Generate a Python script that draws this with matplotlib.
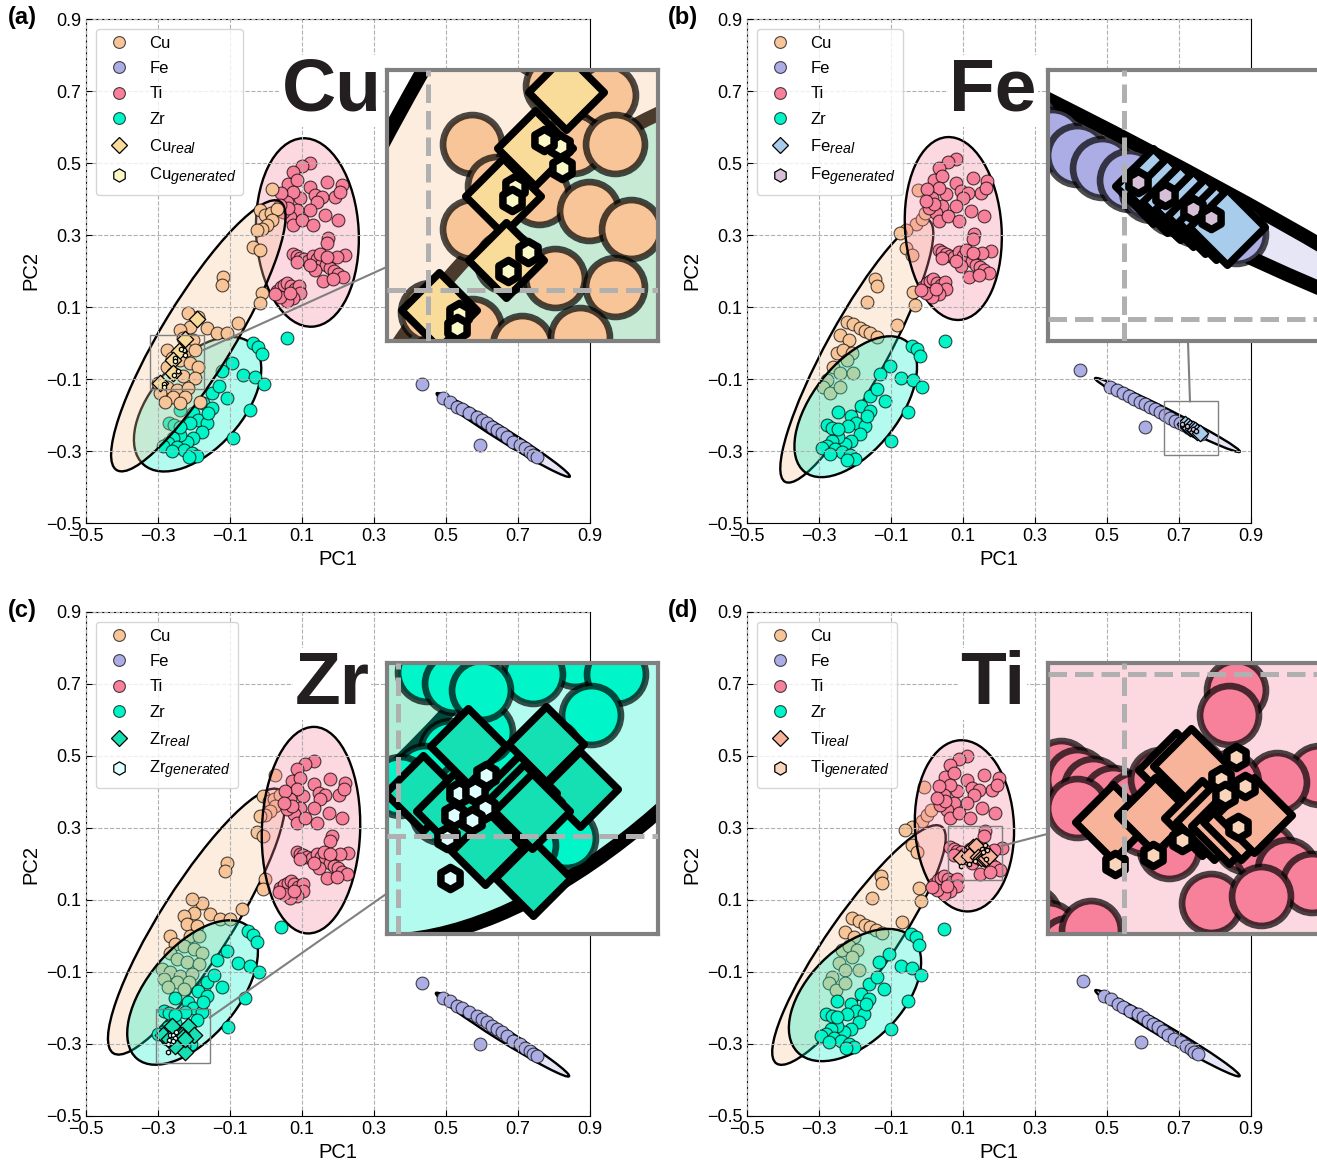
import numpy as np
import matplotlib
matplotlib.use("Agg")
import matplotlib.pyplot as plt
import matplotlib._mathtext as mathtext_core
from matplotlib.patches import Ellipse, Rectangle
from matplotlib.lines import Line2D
from matplotlib.colors import to_rgba

plt.rcParams['font.family'] = ['Liberation Sans', 'DejaVu Sans']
plt.rcParams['mathtext.fontset'] = 'custom'
plt.rcParams['mathtext.rm'] = 'Liberation Sans'
plt.rcParams['mathtext.it'] = 'Liberation Sans:italic'
# subscripts in the legend are drawn fairly large in the original
mathtext_core.SHRINK_FACTOR = 0.85

# ---- data (PC1, PC2) ----
TI_BASE = [(0.122, 0.499), (0.099, 0.492), (0.076, 0.476), (0.062, 0.443), (0.085, 0.453), (0.122, 0.434),
           (0.136, 0.411), (0.169, 0.448), (0.192, 0.406), (0.210, 0.439), (0.206, 0.420), (0.155, 0.406),
           (0.141, 0.393), (0.122, 0.369), (0.094, 0.402), (0.076, 0.420), (0.057, 0.393), (0.043, 0.416),
           (0.085, 0.369), (0.067, 0.351), (0.076, 0.328), (0.099, 0.342), (0.131, 0.328), (0.164, 0.356),
           (0.201, 0.342), (0.173, 0.291), (0.169, 0.277), (0.048, 0.365), (0.062, 0.374), (0.039, 0.383),
           (0.076, 0.247), (0.085, 0.242), (0.094, 0.237), (0.105, 0.232), (0.117, 0.229), (0.131, 0.242),
           (0.142, 0.232), (0.155, 0.223), (0.167, 0.217), (0.178, 0.207), (0.189, 0.201), (0.201, 0.192),
           (0.215, 0.184), (0.219, 0.244), (0.196, 0.240), (0.150, 0.247), (0.136, 0.203), (0.159, 0.173),
           (0.187, 0.177), (0.085, 0.226), (0.122, 0.217), (0.169, 0.240),
           (0.030, 0.145), (0.041, 0.155), (0.050, 0.161), (0.059, 0.166), (0.069, 0.157), (0.080, 0.149),
           (0.093, 0.158), (0.094, 0.138), (0.076, 0.124), (0.057, 0.118), (0.039, 0.129), (0.025, 0.136),
           (0.067, 0.138)]

CU_A = [(0.016, 0.427), (-0.017, 0.369), (-0.003, 0.355), (0.013, 0.360), (0.030, 0.371), (0.016, 0.342),
        (0.002, 0.328), (-0.012, 0.316), (-0.026, 0.314), (-0.035, 0.268), (-0.018, 0.258), (-0.119, 0.184),
        (-0.123, 0.161), (-0.012, 0.138), (-0.017, 0.110), (-0.077, 0.055), (-0.188, 0.073), (-0.216, 0.082),
        (-0.211, 0.045), (-0.165, 0.041), (-0.137, 0.027), (-0.109, 0.027), (-0.239, 0.036), (-0.230, 0.013),
        (-0.202, 0.008), (-0.220, -0.019), (-0.197, -0.019), (-0.276, -0.019), (-0.262, -0.042),
        (-0.239, -0.047), (-0.211, -0.056), (-0.188, -0.066), (-0.276, -0.066), (-0.257, -0.084),
        (-0.230, -0.093), (-0.197, -0.098), (-0.299, -0.112), (-0.276, -0.121), (-0.248, -0.130),
        (-0.216, -0.126), (-0.294, -0.140), (-0.257, -0.149), (-0.225, -0.149), (-0.183, -0.163),
        (-0.239, -0.167), (-0.281, -0.163)]

CU_B = [(-0.024, 0.425), (-0.030, 0.330), (-0.015, 0.345), (-0.005, 0.360), (-0.057, 0.314), (-0.075, 0.305),
        (-0.057, 0.263), (-0.043, 0.244), (-0.144, 0.177), (-0.140, 0.157), (-0.168, 0.115), (-0.038, 0.143),
        (-0.033, 0.106), (-0.084, 0.050), (-0.223, 0.059), (-0.205, 0.053), (-0.186, 0.041), (-0.172, 0.034),
        (-0.158, 0.027), (-0.140, 0.018), (-0.242, 0.022), (-0.218, 0.008), (-0.251, -0.029), (-0.232, -0.019),
        (-0.209, -0.029), (-0.260, -0.066), (-0.242, -0.084), (-0.279, -0.103), (-0.223, -0.047),
        (-0.205, -0.084), (-0.288, -0.121), (-0.269, -0.140), (-0.242, -0.121)]

ZR_BASE = [(-0.035, 0.000), (-0.021, -0.010), (-0.012, -0.030), (0.057, 0.013), (-0.095, -0.056),
           (-0.123, -0.079), (-0.063, -0.089), (-0.031, -0.095), (-0.006, -0.114), (-0.151, -0.140),
           (-0.109, -0.154), (-0.174, -0.167), (-0.151, -0.181), (-0.044, -0.186), (-0.202, -0.195),
           (-0.188, -0.214), (-0.165, -0.223), (-0.179, -0.246), (-0.202, -0.265), (-0.220, -0.274),
           (-0.239, -0.255), (-0.257, -0.265), (-0.271, -0.279), (-0.248, -0.288), (-0.228, -0.297),
           (-0.206, -0.305), (-0.193, -0.314), (-0.091, -0.265), (-0.239, -0.186), (-0.211, -0.223),
           (-0.270, -0.222), (-0.255, -0.228), (-0.240, -0.232), (-0.285, -0.285), (-0.262, -0.300),
           (-0.215, -0.318), (-0.160, -0.195), (-0.130, -0.120)]

FE_A = [(0.432, -0.114), (0.594, -0.283), (0.493, -0.154), (0.511, -0.163), (0.530, -0.177), (0.544, -0.184),
        (0.565, -0.195), (0.585, -0.205), (0.599, -0.214), (0.613, -0.223), (0.627, -0.232), (0.641, -0.242),
        (0.655, -0.251), (0.669, -0.262), (0.687, -0.274), (0.706, -0.283), (0.720, -0.293), (0.733, -0.302),
        (0.743, -0.311), (0.752, -0.316)]

FE_B = [(0.425, -0.075), (0.606, -0.232), (0.508, -0.121), (0.527, -0.130), (0.545, -0.140), (0.560, -0.147),
        (0.576, -0.155), (0.591, -0.163), (0.605, -0.170), (0.619, -0.177), (0.633, -0.184), (0.647, -0.191),
        (0.660, -0.200), (0.674, -0.209), (0.688, -0.216), (0.703, -0.223), (0.715, -0.229), (0.728, -0.236),
        (0.740, -0.242), (0.752, -0.248), (0.762, -0.253)]

# per-panel choice / offsets of the projected clusters
CU_SET = ['A', 'B', 'A', 'B']
CU_SHIFT = [(0.0, 0.0), (0.0, 0.0), (0.01, 0.02), (0.015, -0.01)]
FE_SET = ['A', 'B', 'A', 'A']
FE_SHIFT = [(0.0, 0.0), (0.0, 0.0), (0.0, -0.017), (0.0, -0.012)]
TI_SHIFT = [(0.0, 0.0), (-0.042, 0.011), (0.01, -0.013), (-0.011, 0.0)]
ZR_SHIFT = [(0.0, 0.0), (-0.008, -0.007), (-0.014, 0.013), (-0.01, 0.006)]

# confidence ellipses per panel: (cx, cy, width, height, angle)
ELL_CU = [(-0.188, 0.020, 0.873, 0.20, 58.7), (-0.195, -0.022, 0.829, 0.17, 61.3),
          (-0.193, 0.040, 0.865, 0.20, 57.7), (-0.189, -0.025, 0.802, 0.18, 55.1)]
ELL_FE = [(0.659, -0.2555, 0.436, 0.035, -32), (0.668, -0.200, 0.451, 0.030, -26.9),
          (0.657, -0.274, 0.436, 0.035, -32), (0.668, -0.270, 0.466, 0.035, -30.7)]
ELL_TI = [(0.115, 0.307, 0.285, 0.524, 3), (0.073, 0.318, 0.268, 0.509, 4),
          (0.125, 0.294, 0.273, 0.574, -2), (0.104, 0.306, 0.275, 0.476, 3)]
ELL_ZR = [(-0.190, -0.170, 0.450, 0.250, 48), (-0.198, -0.177, 0.460, 0.240, 52),
          (-0.204, -0.157, 0.480, 0.250, 50), (-0.200, -0.164, 0.450, 0.260, 45)]

# real and generated samples highlighted in each panel
TARGET = ['Cu', 'Fe', 'Zr', 'Ti']
REAL = [
    [(-0.193, 0.066), (-0.224, 0.010), (-0.241, -0.021), (-0.259, -0.048), (-0.257, -0.083), (-0.294, -0.111)],
    [(0.716, -0.226), (0.724, -0.231), (0.731, -0.235), (0.738, -0.239), (0.745, -0.243), (0.751, -0.246),
     (0.757, -0.249)],
    [(-0.261, -0.250), (-0.218, -0.249), (-0.199, -0.274), (-0.286, -0.276), (-0.225, -0.323), (-0.252, -0.306),
     (-0.233, -0.276), (-0.230, -0.281), (-0.226, -0.286), (-0.269, -0.286)],
    [(0.094, 0.218), (0.129, 0.247), (0.137, 0.249), (0.117, 0.222), (0.143, 0.220), (0.150, 0.218),
     (0.158, 0.216), (0.165, 0.218), (0.172, 0.222)],
]
GEN = [
    [(-0.227, -0.020), (-0.236, -0.017), (-0.226, -0.032), (-0.252, -0.043), (-0.254, -0.050), (-0.245, -0.079),
     (-0.256, -0.089), (-0.283, -0.113), (-0.284, -0.121)],
    [(0.708, -0.224), (0.723, -0.231), (0.738, -0.239), (0.748, -0.244)],
    [(-0.266, -0.276), (-0.257, -0.275), (-0.252, -0.284), (-0.269, -0.288), (-0.259, -0.291), (-0.273, -0.301),
     (-0.271, -0.323), (-0.251, -0.266)],
    [(0.162, 0.254), (0.154, 0.242), (0.167, 0.238), (0.156, 0.233), (0.163, 0.215), (0.132, 0.208),
     (0.116, 0.200), (0.095, 0.195)],
]

# zoomed windows
INSET_XLIM = [(-0.323, -0.173), (0.658, 0.808), (-0.306, -0.156), (0.058, 0.208)]
INSET_YLIM = [(-0.128, 0.022), (-0.312, -0.162), (-0.354, -0.204), (0.156, 0.306)]

PANEL_TAGS = ['(a)', '(b)', '(c)', '(d)']
TICKS = [-0.5, -0.3, -0.1, 0.1, 0.3, 0.5, 0.7, 0.9]
ELEMENTS = ['Cu', 'Fe', 'Ti', 'Zr']

COLORS = {'Cu': '#F8C598', 'Fe': '#ADADE6', 'Ti': '#F7819B', 'Zr': '#00F5C9'}
REAL_COLORS = {'Cu': '#F9DC9A', 'Fe': '#A8CCEC', 'Zr': '#14E0B4', 'Ti': '#F8B49A'}
GEN_COLORS = {'Cu': '#FBF8C8', 'Fe': '#D8BFD8', 'Zr': '#E0FFFF', 'Ti': '#F9D5BB'}
EDGE = (0, 0, 0, 0.7)


def panel_points(i):
    cu = np.array(CU_A if CU_SET[i] == 'A' else CU_B) + np.array(CU_SHIFT[i])
    fe = np.array(FE_A if FE_SET[i] == 'A' else FE_B) + np.array(FE_SHIFT[i])
    ti = np.array(TI_BASE) + np.array(TI_SHIFT[i])
    zr = np.array(ZR_BASE) + np.array(ZR_SHIFT[i])
    ells = {'Cu': ELL_CU[i], 'Fe': ELL_FE[i], 'Ti': ELL_TI[i], 'Zr': ELL_ZR[i]}
    return {'Cu': cu, 'Fe': fe, 'Ti': ti, 'Zr': zr}, ells


def draw_scene(ax, i, km=1.0, kl=1.0):
    pts, ells = panel_points(i)
    target = TARGET[i]
    # the highlighted element is drawn last, on top of the others
    order = [e for e in ELEMENTS if e != target] + [target]
    for el in order:
        cx, cy, w, h, ang = ells[el]
        ax.add_patch(Ellipse((cx, cy), w, h, angle=ang, facecolor=to_rgba(COLORS[el], 0.3),
                             edgecolor='black', lw=1.7 * kl, zorder=1))
        p = pts[el]
        ax.scatter(p[:, 0], p[:, 1], s=85 * km ** 2, color=COLORS[el], edgecolors=[EDGE],
                   linewidths=0.8 * kl, zorder=1)
    r = np.array(REAL[i])
    g = np.array(GEN[i])
    ax.scatter(r[:, 0], r[:, 1], marker='D', s=70 * km ** 2, color=REAL_COLORS[target], edgecolors='black',
               linewidths=0.9 * kl, zorder=2)
    ax.scatter(g[:, 0], g[:, 1], marker='h', s=12 * km ** 2, color=GEN_COLORS[target], edgecolors='black',
               linewidths=0.9 * kl, zorder=2)


fig = plt.figure(figsize=(13.17, 11.63), dpi=100)
W, H = 1317, 1163
origins = [(86, 523), (747, 523), (86, 1116), (747, 1116)]
tag_pos = [(8, 6), (668, 6), (8, 599), (668, 599)]

for i in range(4):
    x0, yb = origins[i]
    ax = fig.add_axes([x0 / W, (H - yb) / H, 504 / W, 504 / H])
    draw_scene(ax, i)
    ax.set_xlim(-0.5, 0.9)
    ax.set_ylim(-0.5, 0.9)
    ax.set_xticks(TICKS)
    ax.set_yticks(TICKS)
    ax.set_axisbelow(False)
    ax.grid(True, ls='--', color='#b0b0b0', lw=0.8)
    ax.tick_params(direction='in', length=4, labelsize=13)
    ax.set_xlabel('PC1', fontsize=14.5)
    ax.set_ylabel('PC2', fontsize=14.5)

    el = TARGET[i]
    handles = [Line2D([], [], ls='', marker='o', ms=8.5, mfc=COLORS[e], mec=EDGE, mew=0.8, label=e)
               for e in ELEMENTS]
    handles.append(Line2D([], [], ls='', marker='D', ms=8.5, mfc=REAL_COLORS[el], mec='black', mew=0.9,
                          label=el + r'$_{real}$'))
    handles.append(Line2D([], [], ls='', marker='h', ms=9.5, mfc=GEN_COLORS[el], mec='black', mew=0.9,
                          label=el + r'$_{generated}$'))
    leg = ax.legend(handles=handles, loc='upper left', fontsize=12, borderaxespad=0.6, labelspacing=0.62)
    leg.set_zorder(6)

    ax.text(0.488, 0.818, el, transform=ax.transAxes, ha='center', va='baseline', fontsize=54,
            fontweight='bold', color='#231F20', zorder=4,
            bbox=dict(facecolor='white', edgecolor='none', pad=1))

    # zoom window
    xl, yl = INSET_XLIM[i], INSET_YLIM[i]
    ax.add_patch(Rectangle((xl[0], yl[0]), xl[1] - xl[0], yl[1] - yl[0], fill=False, ec='#808080',
                           lw=1.0, zorder=4))
    box = [0.597, 0.361, 0.538, 0.538]
    ix = -0.5 + (box[0] + box[2] / 2) * 1.4
    iy = -0.5 + (box[1] + box[3] / 2) * 1.4
    cx, cy = (xl[0] + xl[1]) / 2, (yl[0] + yl[1]) / 2
    dx, dy = ix - cx, iy - cy
    t = min((xl[1] - xl[0]) / 2 / abs(dx), (yl[1] - yl[0]) / 2 / abs(dy))
    ax.plot([cx + t * dx, ix], [cy + t * dy, iy], color='#808080', lw=1.5, zorder=3, clip_on=False)

    axins = ax.inset_axes(box)
    draw_scene(axins, i, km=4.6, kl=6.0)
    axins.set_xticks(TICKS)
    axins.set_yticks(TICKS)
    axins.set_xlim(*xl)
    axins.set_ylim(*yl)
    axins.set_axisbelow(False)
    axins.grid(True, ls='--', color='#b0b0b0', lw=3.6)
    axins.tick_params(length=0, labelbottom=False, labelleft=False)
    for s in axins.spines.values():
        s.set_edgecolor('#808080')
        s.set_linewidth(3)

    tx, ty = tag_pos[i]
    fig.text(tx / W, 1 - ty / H, PANEL_TAGS[i], ha='left', va='top', fontsize=17, fontweight='bold')

fig.savefig('out.png', dpi=100)
